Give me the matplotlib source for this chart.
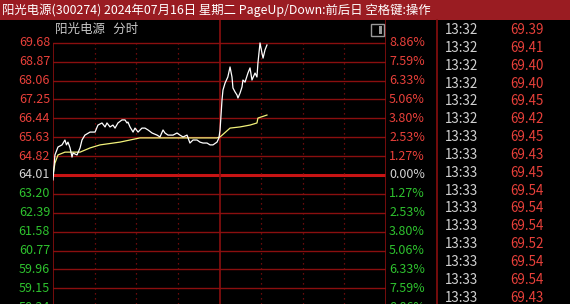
import matplotlib
matplotlib.use('Agg')
import matplotlib.pyplot as plt
from matplotlib.patches import Rectangle

plt.rcParams['font.family'] = ['Noto Sans CJK SC', 'DejaVu Sans']

title = '阳光电源(300274) 2024年07月16日 星期二 PageUp/Down:前后日 空格键:操作'
name = '阳光电源   分时'
base = 64.01   # 昨收
step = 0.81

# 分时价格 (分钟, 价格)
t_price = [0, 1.4, 3.6, 6.5, 8.6, 9.7, 10.8, 12.3, 13.7, 14.4, 17.3, 19.5, 20.9, 23,
           26.7, 30.3, 32.4, 35.3, 37.5, 38.9, 41.1, 43.2, 44.7, 46.8, 49.7, 51.9,
           53.3, 54, 55.5, 57.7, 59.1, 61.3, 64.1, 66.3, 68.5, 71.4, 75, 77.1, 79.3,
           80.7, 82.9, 86.5, 89.4, 91.5, 93.7, 96.6, 98.7, 100.9, 103.8, 105.9, 108.1,
           111, 113.2, 115.3, 118.2, 119.6, 120.4, 121.8, 122.5, 124, 126, 127.6, 129,
           129.7, 131.2, 132.6, 133.3, 134.8, 136.2, 136.9, 138.4, 140.5, 142, 143.4,
           145.6, 147, 147.7, 149.2, 150.6, 151.4, 152.8, 154.2]
price = [63.80, 64.87, 65.21, 65.30, 65.51, 65.30, 65.42, 65.17, 64.78, 64.95, 64.87,
         65.17, 65.51, 65.72, 65.85, 65.85, 66.15, 66.24, 66.07, 66.24, 66.07, 66.15,
         66.02, 66.24, 66.37, 66.37, 66.24, 66.28, 66.07, 65.85, 66.02, 65.85, 66.02,
         66.02, 65.94, 65.81, 65.72, 65.64, 65.94, 65.81, 65.72, 65.72, 65.81, 65.72,
         65.64, 65.72, 65.38, 65.51, 65.51, 65.42, 65.38, 65.38, 65.30, 65.30, 65.42,
         65.60, 65.94, 67.22, 67.65, 67.95, 68.21, 68.64, 68.21, 67.74, 67.57, 67.44,
         67.31, 67.52, 67.78, 68.08, 67.99, 68.38, 68.60, 68.08, 68.38, 68.21, 68.81,
         69.67, 69.24, 69.02, 69.37, 69.58]

# 均价线
t_avg = [0, 1.4, 3.6, 8.6, 19.5, 26.7, 33.9, 48.3, 62.7, 77.1, 105.9, 118.2, 120.4,
         127.6, 134.8, 142, 147, 147.7, 154.2]
avg = [64.01, 64.52, 64.87, 64.99, 64.99, 65.17, 65.30, 65.42, 65.60, 65.60, 65.60,
       65.60, 65.64, 66.02, 66.07, 66.15, 66.24, 66.45, 66.58]

# 右侧成交明细
tick_time = ['13:32'] * 6 + ['13:33'] * 10
tick_price = [69.39, 69.41, 69.40, 69.40, 69.45, 69.42, 69.45, 69.43, 69.45, 69.54,
              69.54, 69.54, 69.52, 69.54, 69.54, 69.43]

W, H = 570, 304
RED = '#e8403a'
GREEN = '#2ec22e'
GRAY = '#d2d2d2'
GRID = '#8a0f0f'


def px(x, y):
    return x / W, 1 - y / H


fig = plt.figure(figsize=(W / 100, H / 100), dpi=100, facecolor='black')

# 标题栏
fig.patches.append(Rectangle((0, 1 - 20 / H), 1, 20 / H, transform=fig.transFigure,
                             facecolor='#9a1c22', edgecolor='none'))
fig.text(*px(2, 10), title, color='white', fontsize=8.9, va='center', ha='left')

# 主图: x 53..386 px, y 20..304 px
x0, y0 = px(53, 304)
x1, y1 = px(386, 20)
ax = fig.add_axes([x0, y0, x1 - x0, y1 - y0])
ax.set_facecolor('black')
per_px = step / 18.9
ax.set_xlim(0, 240)
ax.set_ylim(base - 129 * per_px, base + 155 * per_px)
for s in ax.spines.values():
    s.set_visible(False)
ax.set_xticks([])
ax.set_yticks([])

top = base + 7 * step
ylo, yhi = ax.get_ylim()
for k in range(-8, 8):
    lvl = base + k * step
    if k == 0:
        ax.axhline(lvl, color='#c81414', lw=2.2, zorder=1)
    else:
        ax.axhline(lvl, color=GRID, lw=1.0, zorder=1)
ax.vlines(0, ylo, top, color=GRID, lw=1.2, zorder=1)
ax.vlines([120, 240], ylo, yhi, color=GRID, lw=1.2, zorder=1)
for t in [30, 60, 90, 150, 180, 210]:
    ax.vlines(t, ylo, top, color=GRID, lw=0.9, linestyles=(0, (1, 3)), zorder=1)

ax.plot(t_avg, avg, color='#f2f27a', lw=0.9, zorder=3)
ax.plot(t_price, price, color='white', lw=0.9, zorder=4)

# 坐标标签
for k in range(-8, 8):
    lvl = base + k * step
    yp = 175 - k * 18.9
    c = RED if k > 0 else (GREEN if k < 0 else GRAY)
    fig.text(*px(50, yp), f'{lvl:.2f}', color=c, fontsize=9, ha='right', va='center')
    fig.text(*px(389, yp), f'{abs(k) * step / base * 100:.2f}%', color=c,
             fontsize=9, ha='left', va='center')

fig.text(*px(55, 29), name, color='#c8c8c8', fontsize=9, ha='left', va='center')
# 小图标
fig.patches.append(Rectangle(px(371, 36), 13 / W, 12 / H, transform=fig.transFigure,
                             facecolor='none', edgecolor='#9a9a9a', lw=1))
fig.patches.append(Rectangle(px(379, 34), 3 / W, 8 / H, transform=fig.transFigure,
                             facecolor='#9a9a9a', edgecolor='none'))

# 右侧分隔线
fig.lines.append(plt.Line2D([437 / W, 437 / W], [0, 1 - 20 / H], transform=fig.transFigure,
                            color=GRID, lw=1.2))

for i, (tt, pp) in enumerate(zip(tick_time, tick_price)):
    yp = 30 + i * 17.85
    fig.text(*px(445, yp), tt, color=GRAY, fontsize=9.6, ha='left', va='center')
    fig.text(*px(510, yp), f'{pp:.2f}', color=RED, fontsize=9.6, ha='left', va='center')

fig.savefig('out.png', dpi=100, facecolor='black')
